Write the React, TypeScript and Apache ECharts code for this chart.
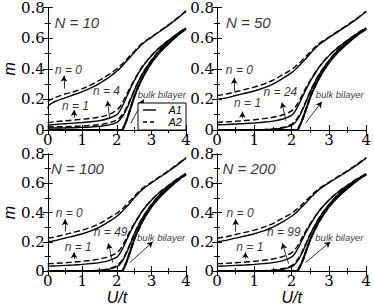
import React, { useEffect, useRef } from "react";
import * as echarts from "echarts";

// ---------- data ----------
const PANEL_TITLES = ["N = 10", "N = 50", "N = 100", "N = 200"];
const MID_LABELS = ["n = 4", "n = 24", "n = 49", "n = 99"];
const X_TICKS = [0, 1, 2, 3, 4];
const Y_TICKS = [0, 0.2, 0.4, 0.6, 0.8];

const U = [0, 0.05, 0.25, 0.5, 0.75, 1, 1.25, 1.5, 1.75, 2, 2.1, 2.2, 2.3, 2.4, 2.5, 2.6, 2.75, 3, 3.25, 3.5, 3.75, 4];

// N = 10
const N10_N0_A1 = [0.14, 0.165, 0.19, 0.21, 0.23, 0.25, 0.275, 0.305, 0.34, 0.385, 0.405, 0.43, 0.455, 0.48, 0.505, 0.53, 0.565, 0.605, 0.645, 0.685, 0.728, 0.775];
const N10_N0_A2 = [0.185, 0.195, 0.215, 0.235, 0.25, 0.27, 0.295, 0.325, 0.36, 0.4, 0.42, 0.44, 0.465, 0.49, 0.513, 0.537, 0.57, 0.609, 0.648, 0.688, 0.731, 0.778];
const N10_N1_A1 = [0.025, 0.032, 0.037, 0.041, 0.045, 0.049, 0.054, 0.061, 0.075, 0.1, 0.13, 0.175, 0.225, 0.275, 0.32, 0.36, 0.415, 0.485, 0.54, 0.585, 0.628, 0.665];
const N10_N1_A2 = [0.045, 0.05, 0.055, 0.06, 0.065, 0.07, 0.076, 0.085, 0.1, 0.13, 0.155, 0.195, 0.24, 0.285, 0.327, 0.365, 0.418, 0.487, 0.542, 0.587, 0.63, 0.667];
const N10_MID_A1 = [0.01, 0.012, 0.013, 0.014, 0.015, 0.017, 0.02, 0.024, 0.032, 0.05, 0.07, 0.1, 0.145, 0.2, 0.255, 0.305, 0.37, 0.455, 0.525, 0.578, 0.625, 0.663];
const N10_MID_A2 = [0.018, 0.02, 0.021, 0.022, 0.024, 0.026, 0.03, 0.035, 0.045, 0.065, 0.085, 0.115, 0.157, 0.208, 0.26, 0.308, 0.372, 0.457, 0.527, 0.58, 0.627, 0.665];

// N = 50, 100, 200 (nearly identical)
const BIG_N0_A1 = [0.2, 0.202, 0.21, 0.225, 0.24, 0.255, 0.275, 0.3, 0.335, 0.375, 0.395, 0.42, 0.445, 0.47, 0.5, 0.525, 0.56, 0.603, 0.643, 0.683, 0.726, 0.772];
const BIG_N0_A2 = [0.225, 0.227, 0.235, 0.25, 0.265, 0.28, 0.3, 0.325, 0.36, 0.395, 0.415, 0.435, 0.46, 0.485, 0.51, 0.535, 0.567, 0.607, 0.647, 0.687, 0.73, 0.776];
const BIG_N1_A1 = [0.033, 0.034, 0.036, 0.039, 0.042, 0.046, 0.051, 0.058, 0.07, 0.095, 0.125, 0.17, 0.222, 0.272, 0.318, 0.358, 0.414, 0.484, 0.54, 0.585, 0.628, 0.665];
const BIG_N1_A2 = [0.05, 0.051, 0.053, 0.057, 0.062, 0.067, 0.074, 0.083, 0.098, 0.125, 0.15, 0.19, 0.237, 0.283, 0.325, 0.363, 0.417, 0.486, 0.542, 0.587, 0.63, 0.667];
const BIG_MID_A1 = [0, 0, 0, 0, 0, 0.001, 0.002, 0.005, 0.012, 0.03, 0.05, 0.085, 0.135, 0.192, 0.25, 0.3, 0.367, 0.453, 0.524, 0.577, 0.624, 0.663];
const BIG_MID_A2 = [0.001, 0.001, 0.001, 0.001, 0.001, 0.002, 0.003, 0.007, 0.016, 0.038, 0.06, 0.095, 0.143, 0.198, 0.254, 0.303, 0.369, 0.455, 0.526, 0.579, 0.626, 0.665];

// bulk bilayer (same in all panels)
const U_BULK = [0, 1, 2, 2.15, 2.2, 2.25, 2.3, 2.4, 2.5, 2.6, 2.75, 3, 3.25, 3.5, 3.75, 4];
const BULK_A1 = [0, 0, 0, 0, 0.02, 0.045, 0.075, 0.145, 0.215, 0.272, 0.345, 0.44, 0.51, 0.566, 0.618, 0.66];
const BULK_A2 = [0, 0, 0, 0, 0.021, 0.046, 0.076, 0.146, 0.216, 0.273, 0.346, 0.441, 0.511, 0.567, 0.619, 0.661];

const PANEL_CURVES = [
  { n0: [N10_N0_A1, N10_N0_A2], n1: [N10_N1_A1, N10_N1_A2], mid: [N10_MID_A1, N10_MID_A2] },
  { n0: [BIG_N0_A1, BIG_N0_A2], n1: [BIG_N1_A1, BIG_N1_A2], mid: [BIG_MID_A1, BIG_MID_A2] },
  { n0: [BIG_N0_A1, BIG_N0_A2], n1: [BIG_N1_A1, BIG_N1_A2], mid: [BIG_MID_A1, BIG_MID_A2] },
  { n0: [BIG_N0_A1, BIG_N0_A2], n1: [BIG_N1_A1, BIG_N1_A2], mid: [BIG_MID_A1, BIG_MID_A2] },
];

// ---------- layout ----------
const GRID_POS = [
  { left: 33, top: 7 },
  { left: 217, top: 7 },
  { left: 33, top: 154 },
  { left: 217, top: 154 },
];
const GW = 153;
const GH = 123;

const SANS = "Liberation Sans";
const SERIF = "DejaVu Serif";

const ANN = [
  {
    title: [0.84, 0.7], n0: [0.6, 0.39], n1: [0.8, 0.155], mid: [1.7, 0.254], bulk: [3.3, 0.23],
    a0: [[0.47, 0.27], [0.47, 0.355]], a1: [[0.76, 0.08], [0.76, 0.13]], am: [[1.79, 0.075], [1.73, 0.19]], ab: [[2.4, 0.043], [2.78, 0.2]],
  },
  {
    title: [0.84, 0.7], n0: [0.6, 0.39], n1: [0.82, 0.174], mid: [1.7, 0.246], bulk: [3.29, 0.23],
    a0: [[0.46, 0.255], [0.46, 0.34]], a1: [[0.68, 0.076], [0.68, 0.12]], am: [[1.85, 0.059], [1.74, 0.18]], ab: [[2.37, 0.044], [2.81, 0.185]],
  },
  {
    title: [0.86, 0.7], n0: [0.62, 0.4], n1: [0.88, 0.167], mid: [1.82, 0.264], bulk: [3.28, 0.23],
    a0: [[0.5, 0.27], [0.5, 0.355]], a1: [[0.76, 0.084], [0.76, 0.128]], am: [[1.88, 0.058], [1.75, 0.19]], ab: [[2.37, 0.058], [3.04, 0.2]],
  },
  {
    title: [0.86, 0.7], n0: [0.62, 0.4], n1: [0.88, 0.167], mid: [1.79, 0.264], bulk: [3.28, 0.23],
    a0: [[0.5, 0.27], [0.5, 0.355]], a1: [[0.76, 0.084], [0.76, 0.128]], am: [[1.92, 0.05], [1.75, 0.19]], ab: [[2.37, 0.058], [3.04, 0.2]],
  },
];

function zip(xs: number[], ys: number[]) {
  return xs.map((x, i) => [x, ys[i]]);
}

function buildOption() {
  const grid: any[] = [];
  const xAxis: any[] = [];
  const yAxis: any[] = [];
  const series: any[] = [];

  const tickCommon = {
    axisLine: { show: true, lineStyle: { color: "#000", width: 1 } },
    axisTick: { show: true, inside: true, length: 5, lineStyle: { color: "#000", width: 1 } },
    minorTick: { show: true, splitNumber: 2, length: 3, lineStyle: { color: "#000", width: 1 } },
    splitLine: { show: false },
    minorSplitLine: { show: false },
  };
  const tickLabel = (margin: number) => ({
    show: true,
    color: "#000",
    fontFamily: SERIF,
    fontSize: 15,
    margin,
  });

  GRID_POS.forEach((g, i) => {
    grid.push({ left: g.left, top: g.top, width: GW, height: GH, show: false });
    const isBottom = i >= 2;
    const isLeft = i % 2 === 0;
    xAxis.push({
      type: "value", gridIndex: i, position: "bottom", min: X_TICKS[0], max: X_TICKS[X_TICKS.length - 1], interval: 1,
      ...tickCommon,
      axisLabel: tickLabel(2),
      name: isBottom ? "U/t" : "",
      nameLocation: "middle",
      nameGap: 15,
      nameTextStyle: { color: "#000", fontFamily: SANS, fontStyle: "italic", fontSize: 16, verticalAlign: "top" },
    });
    xAxis.push({
      type: "value", gridIndex: i, position: "top", min: 0, max: 4, interval: 1,
      ...tickCommon,
      axisLabel: { show: false },
    });
    yAxis.push({
      type: "value", gridIndex: i, position: "left", min: Y_TICKS[0], max: Y_TICKS[Y_TICKS.length - 1], interval: 0.2,
      ...tickCommon,
      axisLabel: tickLabel(3),
      name: isLeft ? "m" : "",
      nameLocation: "middle",
      nameRotate: 90,
      nameGap: 24,
      nameTextStyle: { color: "#000", fontFamily: SANS, fontStyle: "italic", fontSize: 16 },
    });
    yAxis.push({
      type: "value", gridIndex: i, position: "right", min: 0, max: 0.8, interval: 0.2,
      ...tickCommon,
      axisLabel: { show: false },
    });

    const xi = i * 2;
    const yi = i * 2;
    const c = PANEL_CURVES[i];
    const line = (name: string, data: number[][], dashed: boolean, width = 1.4) => ({
      type: "line",
      name,
      xAxisIndex: xi,
      yAxisIndex: yi,
      data,
      showSymbol: false,
      symbol: "none",
      smooth: 0.35,
      silent: true,
      lineStyle: { color: "#000", width, type: dashed ? [6, 3] : "solid" },
    });
    series.push(line("n0 A1", zip(U, c.n0[0]), false));
    series.push(line("n0 A2", zip(U, c.n0[1]), true));
    series.push(line("n1 A1", zip(U, c.n1[0]), false));
    series.push(line("n1 A2", zip(U, c.n1[1]), true));
    series.push(line("mid A1", zip(U, c.mid[0]), false));
    series.push(line("mid A2", zip(U, c.mid[1]), true));
    series.push(line("bulk A1", zip(U_BULK, BULK_A1), false, 2));
    series.push(line("bulk A2", zip(U_BULK, BULK_A2), true, 2));

    const a = ANN[i];
    const lab = (pos: number[], text: string, size: number) => ({
      value: pos,
      label: {
        show: true, position: "inside", formatter: text, color: "#000",
        textBorderWidth: 0, textShadowBlur: 0,
        fontFamily: SANS, fontStyle: "italic", fontSize: size,
      },
    });
    const arrow = (p: number[][]) => [
      { coord: p[0], symbol: "none" },
      { coord: p[1], symbol: "arrow" },
    ];
    series.push({
      type: "scatter",
      xAxisIndex: xi,
      yAxisIndex: yi,
      symbolSize: 0,
      silent: true,
      itemStyle: { color: "#000" },
      data: [
        lab(a.title, PANEL_TITLES[i], 15),
        lab(a.n0, "n = 0", 12),
        lab(a.n1, "n = 1", 12),
        lab(a.mid, MID_LABELS[i], 12),
        lab(a.bulk, "bulk bilayer", 9.5),
      ],
      markLine: {
        silent: true,
        symbolSize: [5, 6],
        label: { show: false },
        itemStyle: { color: "#000" },
        lineStyle: { color: "#000", width: 0.8, type: "solid" },
        data: [arrow(a.a0), arrow(a.a1), arrow(a.am), arrow(a.ab)],
      },
    });
  });

  const lx = 138, ly = 103, lw = 48, lh = 27;
  const graphic: any[] = [
    { type: "rect", shape: { x: lx, y: ly, width: lw, height: lh }, style: { fill: "#fff", stroke: "#000", lineWidth: 1 }, z: 10 },
    { type: "line", shape: { x1: 143, y1: 110, x2: 156, y2: 110 }, style: { stroke: "#000", lineWidth: 1.4 }, z: 11 },
    { type: "line", shape: { x1: 143, y1: 122, x2: 156, y2: 122 }, style: { stroke: "#000", lineWidth: 1.4, lineDash: [4, 3] }, z: 11 },
    { type: "text", x: 182, y: 110, style: { text: "A1", fill: "#000", fontFamily: SANS, fontStyle: "italic", fontSize: 11, align: "right", verticalAlign: "middle" }, z: 11 },
    { type: "text", x: 182, y: 122, style: { text: "A2", fill: "#000", fontFamily: SANS, fontStyle: "italic", fontSize: 11, align: "right", verticalAlign: "middle" }, z: 11 },
  ];

  return {
    animation: false,
    backgroundColor: "#fff",
    textStyle: { fontFamily: SERIF },
    grid,
    xAxis,
    yAxis,
    series,
    graphic,
  };
}

export default function App() {
  const ref = useRef<HTMLDivElement>(null);
  useEffect(() => {
    if (!ref.current) return;
    const chart = echarts.init(ref.current, undefined, { renderer: "svg" });
    chart.setOption(buildOption() as any);
    return () => chart.dispose();
  }, []);
  return <div ref={ref} style={{ width: 374, height: 306, position: "absolute", left: 0, top: 0 }} />;
}
